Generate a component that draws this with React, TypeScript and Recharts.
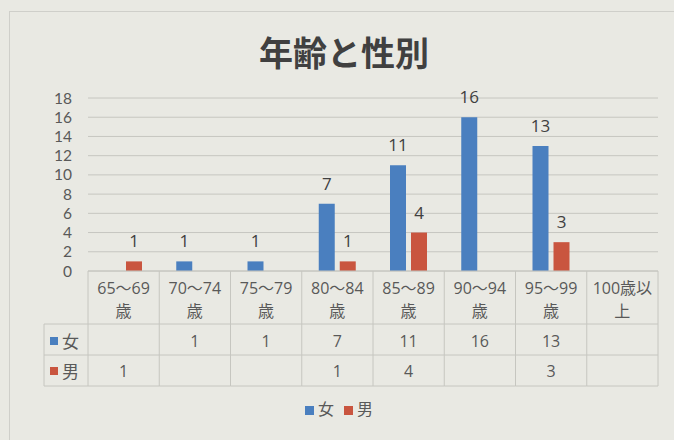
import { BarChart, Bar, XAxis, YAxis, CartesianGrid, Legend, LabelList } from "recharts";

const categories = ["65～69歳", "70～74歳", "75～79歳", "80～84歳", "85～89歳", "90～94歳", "95～99歳", "100歳以上"];
const headerTop = ["65～69", "70～74", "75～79", "80～84", "85～89", "90～94", "95～99", "100歳以"];
const headerBottom = ["歳", "歳", "歳", "歳", "歳", "歳", "歳", "上"];
const female = [null, 1, 1, 7, 11, 16, 13, null];
const male = [1, null, null, 1, 4, null, 3, null];
const yTicks = [0, 2, 4, 6, 8, 10, 12, 14, 16, 18];

const data = categories.map((c, i) => ({ name: c, female: female[i], male: male[i] }));

const BLUE = "#4a7fbf";
const RED = "#c9553f";
const LINE = "#c6c6c0";
const TEXT = "#595959";
const FONT = "'Open Sans', 'Noto Sans CJK JP', sans-serif";

const PLOT_W = 570;
const HALF = PLOT_W / categories.length / 2;
const LEFT_X = 44;
const ROW1 = 53;
const ROW2 = 84;
const ROW3 = 115;

function TableTick(props: any) {
  const { x, y, index } = props;
  const half = props.payload?.offset || HALF;
  const cell = (v: number | null, yy: number) =>
    v == null ? null : (
      <text x={x} y={yy} textAnchor="middle" dominantBaseline="central" fontSize={16} fill={TEXT} fontFamily={FONT}>
        {v}
      </text>
    );
  return (
    <g>
      <line x1={x + half} y1={y} x2={x + half} y2={y + ROW3} stroke={LINE} />
      {index === 0 && <line x1={x - half} y1={y} x2={x - half} y2={y + ROW3} stroke={LINE} />}
      {[ROW1, ROW2, ROW3].map((r) => (
        <line key={r} x1={x - half} y1={y + r} x2={x + half} y2={y + r} stroke={LINE} />
      ))}
      <text x={x} y={y + 17} textAnchor="middle" dominantBaseline="central" fontSize={16} fill={TEXT} fontFamily={FONT}>
        {headerTop[index]}
      </text>
      <text x={x} y={y + 40} textAnchor="middle" dominantBaseline="central" fontSize={16} fill={TEXT} fontFamily={FONT}>
        {headerBottom[index]}
      </text>
      {cell(female[index], y + 70)}
      {cell(male[index], y + 100)}
      {index === 0 && (
        <g>
          {[ROW1, ROW2, ROW3].map((r) => (
            <line key={r} x1={LEFT_X} y1={y + r} x2={x - half} y2={y + r} stroke={LINE} />
          ))}
          <line x1={LEFT_X} y1={y + ROW1} x2={LEFT_X} y2={y + ROW3} stroke={LINE} />
          <rect x={LEFT_X + 6} y={y + 66} width={8} height={8} fill={BLUE} />
          <text x={LEFT_X + 18} y={y + 70} dominantBaseline="central" fontSize={17} fill={TEXT} fontFamily={FONT}>
            女
          </text>
          <rect x={LEFT_X + 6} y={y + 96} width={8} height={8} fill={RED} />
          <text x={LEFT_X + 18} y={y + 100} dominantBaseline="central" fontSize={17} fill={TEXT} fontFamily={FONT}>
            男
          </text>
        </g>
      )}
    </g>
  );
}

export default function App() {
  return (
    <div
      style={{
        position: "absolute",
        left: 0,
        top: 0,
        width: 674,
        height: 440,
        overflow: "hidden",
        background: "#e9e9e3",
        fontFamily: FONT,
      }}
    >
      <div
        style={{
          position: "absolute",
          left: 9,
          top: 11,
          width: 720,
          height: 480,
          border: "1px solid #cfcfca",
        }}
      />
      <div
        style={{
          position: "absolute",
          left: 14,
          width: 660,
          top: 27,
          textAlign: "center",
          fontSize: 34,
          fontWeight: 700,
          color: "#404040",
          fontFamily: "'Noto Sans CJK JP', sans-serif",
        }}
      >
        年齢と性別
      </div>
      <div style={{ position: "absolute", left: 0, top: 0 }}>
        <BarChart
          width={674}
          height={440}
          data={data}
          margin={{ top: 98, right: 16, left: 0, bottom: 20 }}
          barSize={16}
          barGap={5}
        >
          <CartesianGrid vertical={false} stroke={LINE} />
          <XAxis
            dataKey="name"
            interval={0}
            height={125}
            tickSize={0}
            tickMargin={0}
            tickLine={false}
            axisLine={{ stroke: LINE }}
            tick={<TableTick />}
          />
          <YAxis
            width={88}
            domain={[0, 18]}
            ticks={yTicks}
            interval={0}
            axisLine={false}
            tickLine={false}
            tickSize={0}
            tickMargin={16}
            tick={{ fontSize: 15.5, fill: TEXT, fontFamily: "Lato, sans-serif" }}
          />
          <Legend
            verticalAlign="bottom"
            iconType="square"
            iconSize={9}
            wrapperStyle={{ left: 15, width: 658, fontSize: 16, fontFamily: FONT }}
            formatter={(v: string) => <span style={{ color: TEXT }}>{v}</span>}
          />
          <Bar dataKey="female" name="女" fill={BLUE} isAnimationActive={false}>
            <LabelList dataKey="female" position="top" offset={14} fontSize={17} fill="#404040" fontFamily={FONT} />
          </Bar>
          <Bar dataKey="male" name="男" fill={RED} isAnimationActive={false}>
            <LabelList dataKey="male" position="top" offset={14} fontSize={17} fill="#404040" fontFamily={FONT} />
          </Bar>
        </BarChart>
      </div>
    </div>
  );
}
